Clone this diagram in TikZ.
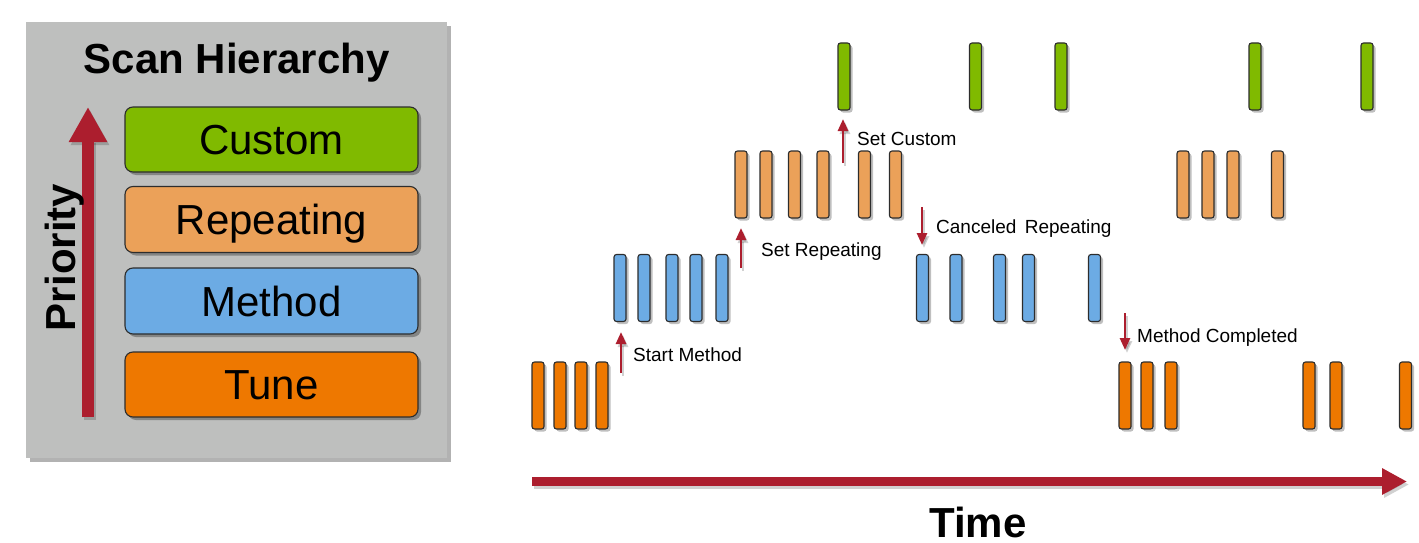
\documentclass[tikz,border=0pt]{standalone}
\usepackage{fontspec}
\setmainfont{Liberation Sans}
\usetikzlibrary{arrows.meta,shadows}
\definecolor{cgreen}{RGB}{128,186,0}
\definecolor{crep}{RGB}{235,161,89}
\definecolor{cblue}{RGB}{108,171,228}
\definecolor{ctune}{RGB}{238,120,0}
\definecolor{cred}{RGB}{172,30,46}
\definecolor{cpanel}{RGB}{190,191,190}
\definecolor{cedge}{RGB}{45,45,45}
\tikzset{
  bar/.style={draw=cedge,line width=1.1pt,rounded corners=2.5pt,minimum width=12pt,minimum height=67pt,inner sep=0pt,
    drop shadow={shadow xshift=2.5pt,shadow yshift=-2.5pt,fill=black,opacity=0.25}},
  level/.style={draw=cedge,line width=1.1pt,rounded corners=8pt,minimum width=293pt,inner sep=0pt,
    text height=30pt,text depth=0pt,font=\fontsize{42}{42}\selectfont,
    drop shadow={shadow xshift=3pt,shadow yshift=-3pt,fill=black,opacity=0.3}},
  evarrow/.style={draw=cred,line width=2.6pt,-{Triangle[length=12pt,width=10pt]}},
  arrshadow/.style={draw=black,opacity=0.18,transform canvas={xshift=2pt,yshift=-3pt}},
  evlabel/.style={anchor=base west,inner sep=0pt,font=\fontsize{19}{19}\selectfont},
  bigtitle/.style={inner sep=0pt,font=\fontsize{42}{42}\selectfont\bfseries},
}
\begin{document}
\begin{tikzpicture}[x=1pt,y=-1pt]
\useasboundingbox (0,0) rectangle (1419,543);
% left panel
\node[fill=cpanel,minimum width=421pt,minimum height=436pt,inner sep=0pt,
  drop shadow={shadow xshift=4pt,shadow yshift=-4pt,fill=black,opacity=0.3}] (panel) at (236.5,240) {};
\node[bigtitle,anchor=base] (title) at (236.7,74) {Scan Hierarchy};
\node[level,fill=cgreen,minimum height=65pt] (custom) at (271.5,139.5) {Custom};
\node[level,fill=crep,minimum height=66pt] (repeating) at (271.5,219.5) {Repeating};
\node[level,fill=cblue,minimum height=66pt] (method) at (271.5,301) {Method};
\node[level,fill=ctune,minimum height=65pt] (tune) at (271.5,384.5) {Tune};
\coordinate (prioBot) at (88,417);
\coordinate (prioTop) at (88,107);
\draw[arrshadow,line width=12pt,-{Triangle[length=35pt,width=36pt]}] (prioBot) -- (prioTop);
\draw[cred,line width=12pt,-{Triangle[length=35pt,width=36pt]}] (prioBot) -- (prioTop);
\node[bigtitle,rotate=90,anchor=base] (priority) at (75,257.5) {Priority};
% time axis
\coordinate (timeStart) at (532,481.5);
\coordinate (timeEnd) at (1407,481.5);
\draw[arrshadow,line width=9pt,-{Triangle[length=25pt,width=25pt]}] (timeStart) -- (timeEnd);
\draw[cred,line width=9pt,-{Triangle[length=25pt,width=25pt]}] (timeStart) -- (timeEnd);
\node[bigtitle,anchor=base] (time) at (978,537.5) {Time};
% bars
\foreach \x [count=\i] in {538,560,581,602,1125,1147,1171,1309,1336,1405.5}
  \node[bar,fill=ctune] (tb\i) at (\x,395.5) {};
\foreach \x [count=\i] in {620,644,672,696,722,922.5,956,999.5,1028.5,1094.5}
  \node[bar,fill=cblue] (mb\i) at (\x,288) {};
\foreach \x [count=\i] in {741,766,794.5,823,864.5,895.5,1183,1208,1233,1277.5}
  \node[bar,fill=crep] (rb\i) at (\x,184.5) {};
\foreach \x [count=\i] in {844,975.5,1061,1255,1367}
  \node[bar,fill=cgreen] (cb\i) at (\x,76.5) {};
% events
\coordinate (e1a) at (621,373); \coordinate (e1b) at (621,332);
\coordinate (e2a) at (741,268); \coordinate (e2b) at (741,228);
\coordinate (e3a) at (843,163); \coordinate (e3b) at (843,119);
\coordinate (e4a) at (922,207); \coordinate (e4b) at (922,245);
\coordinate (e5a) at (1125,313); \coordinate (e5b) at (1125,350);
\foreach \a/\b in {e1a/e1b,e2a/e2b,e3a/e3b,e4a/e4b,e5a/e5b}{
  \draw[arrshadow,line width=2.6pt,-{Triangle[length=12pt,width=10pt]}] (\a) -- (\b);
  \draw[evarrow] (\a) -- (\b);
}
\node[evlabel] (l1) at (633,361) {Start Method};
\node[evlabel] (l2) at (761,256) {Set Repeating};
\node[evlabel] (l3) at (857,145) {Set Custom};
\node[evlabel] (l4) at (936,233) {Canceled\, Repeating};
\node[evlabel] (l5) at (1137,342) {Method Completed};
\end{tikzpicture}
\end{document}
